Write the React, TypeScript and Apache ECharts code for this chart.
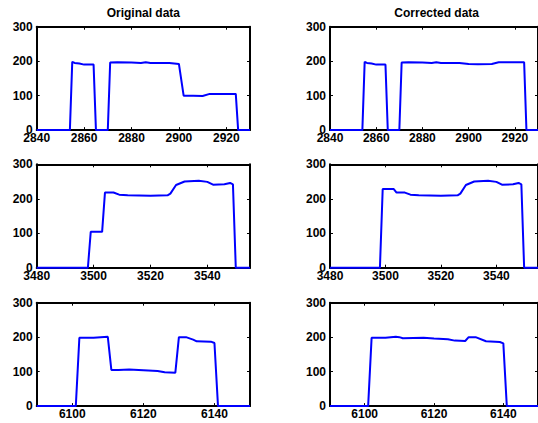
import React, { useEffect, useRef } from "react";
import * as echarts from "echarts";

// ---- data ----
const titles = ["Original data", "Corrected data"];

const xRanges: [number, number][] = [
  [2840, 2930],
  [3480, 3555],
  [6090, 6150],
];
const xTickValues: number[][] = [
  [2840, 2860, 2880, 2900, 2920],
  [3480, 3500, 3520, 3540],
  [6100, 6120, 6140],
];
const yTickValues = [0, 100, 200, 300];

const originalRow1: [number, number][] = [
  [2840, 0], [2854, 0], [2855, 198], [2856, 195], [2858, 193], [2860, 190], [2864, 190], [2865, 0],
  [2870, 0], [2871, 196], [2874, 197], [2880, 196], [2884, 195], [2886, 197], [2888, 195], [2896, 195],
  [2900, 192], [2902, 100], [2906, 100], [2910, 99], [2913, 105], [2924, 105], [2925, 0], [2930, 0],
];
const correctedRow1: [number, number][] = [
  [2840, 0], [2854, 0], [2855, 198], [2856, 195], [2858, 193], [2860, 190], [2864, 190], [2865, 0],
  [2870, 0], [2871, 196], [2874, 197], [2880, 196], [2884, 195], [2886, 197], [2888, 195], [2896, 195],
  [2900, 192], [2904, 191], [2910, 192], [2913, 197], [2924, 197], [2925, 0], [2930, 0],
];
const originalRow2: [number, number][] = [
  [3480, 0], [3498, 0], [3499, 104], [3503, 104], [3504, 218], [3507, 218], [3509, 212], [3512, 210],
  [3520, 209], [3526, 210], [3527, 215], [3529, 240], [3532, 250], [3537, 252], [3540, 249], [3542, 241],
  [3546, 242], [3548, 246], [3549, 242], [3550, 0], [3555, 0],
];
const correctedRow2: [number, number][] = [
  [3480, 0], [3498, 0], [3499, 228], [3503, 228], [3504, 218], [3507, 218], [3509, 212], [3512, 210],
  [3520, 209], [3526, 210], [3527, 215], [3529, 240], [3532, 250], [3537, 252], [3540, 249], [3542, 241],
  [3546, 242], [3548, 246], [3549, 242], [3550, 0], [3555, 0],
];
const originalRow3: [number, number][] = [
  [6090, 0], [6101, 0], [6102, 198], [6106, 198], [6108, 200], [6110, 201], [6111, 105], [6113, 105],
  [6116, 106], [6120, 104], [6124, 102], [6126, 98], [6129, 97], [6130, 200], [6132, 200], [6134, 193],
  [6135, 188], [6139, 187], [6140, 183], [6141, 0], [6150, 0],
];
const correctedRow3: [number, number][] = [
  [6090, 0], [6101, 0], [6102, 198], [6106, 198], [6109, 201], [6110, 200], [6111, 197], [6117, 198],
  [6120, 196], [6124, 194], [6126, 190], [6129, 189], [6130, 200], [6132, 200], [6135, 188], [6139, 186],
  [6140, 182], [6141, 0], [6150, 0],
];

const panels = [
  [originalRow1, correctedRow1],
  [originalRow2, correctedRow2],
  [originalRow3, correctedRow3],
];

const FONT = "'Liberation Sans', Arial, Helvetica, sans-serif";

export default function App() {
  const ref = useRef<HTMLDivElement>(null);
  useEffect(() => {
    if (!ref.current) return;
    const chart = echarts.init(ref.current, null, { renderer: "svg" });
    const colLeft = [36.7, 330];
    const rowTop = [26.7, 164.3, 302.7];
    const gw = 213.3;
    const gh = 103.4;
    const grids: any[] = [];
    const xAxes: any[] = [];
    const yAxes: any[] = [];
    const series: any[] = [];
    const axisLine = { show: true, onZero: false, lineStyle: { color: "#000", width: 2 } };
    const label = { color: "#000", fontWeight: "bold", fontSize: 12, fontFamily: FONT };
    const fmt = (v: number) => String(v);
    for (let r = 0; r < 3; r++) {
      for (let c = 0; c < 2; c++) {
        const gi = grids.length;
        grids.push({ left: colLeft[c], top: rowTop[r], width: gw, height: gh, containLabel: false });
        const [mn, mx] = xRanges[r];
        const xBase = {
          type: "value", gridIndex: gi, min: mn, max: mx, interval: 20,
          splitLine: { show: false }, axisLine,
        };
        xAxes.push({
          ...xBase, position: "bottom",
          axisTick: { show: true, inside: true, length: 3, customValues: xTickValues[r], lineStyle: { color: "#000", width: 1 } },
          axisLabel: { ...label, margin: 2, customValues: xTickValues[r], formatter: fmt },
        });
        xAxes.push({
          ...xBase, position: "top",
          axisTick: { show: true, inside: true, length: 3, customValues: xTickValues[r], lineStyle: { color: "#000", width: 1 } },
          axisLabel: { show: false },
        });
        const yBase = {
          type: "value", gridIndex: gi, min: 0, max: 300, interval: 100,
          splitLine: { show: false }, axisLine,
        };
        yAxes.push({
          ...yBase, position: "left",
          axisTick: { show: true, inside: true, length: 3, customValues: yTickValues, lineStyle: { color: "#000", width: 1 } },
          axisLabel: { ...label, margin: 4, customValues: yTickValues, formatter: fmt },
        });
        yAxes.push({
          ...yBase, position: "right",
          axisTick: { show: true, inside: true, length: 3, customValues: yTickValues, lineStyle: { color: "#000", width: 1 } },
          axisLabel: { show: false },
        });
        series.push({
          type: "line",
          xAxisIndex: gi * 2,
          yAxisIndex: gi * 2,
          data: panels[r][c],
          showSymbol: false,
          clip: false,
          lineStyle: { color: "#0000ff", width: 2 },
          itemStyle: { color: "#0000ff" },
          z: 5,
        });
      }
    }
    chart.setOption({
      animation: false,
      backgroundColor: "#fff",
      title: titles.map((t, i) => ({
        text: t,
        left: colLeft[i] + gw / 2,
        top: 7,
        textAlign: "center",
        padding: 0,
        textStyle: { ...label, fontSize: 12 },
      })),
      grid: grids,
      xAxis: xAxes,
      yAxis: yAxes,
      series,
    });
    return () => chart.dispose();
  }, []);
  return (
    <div
      ref={ref}
      style={{ position: "fixed", left: 0, top: 0, width: 538, height: 423, overflow: "hidden" }}
    />
  );
}
